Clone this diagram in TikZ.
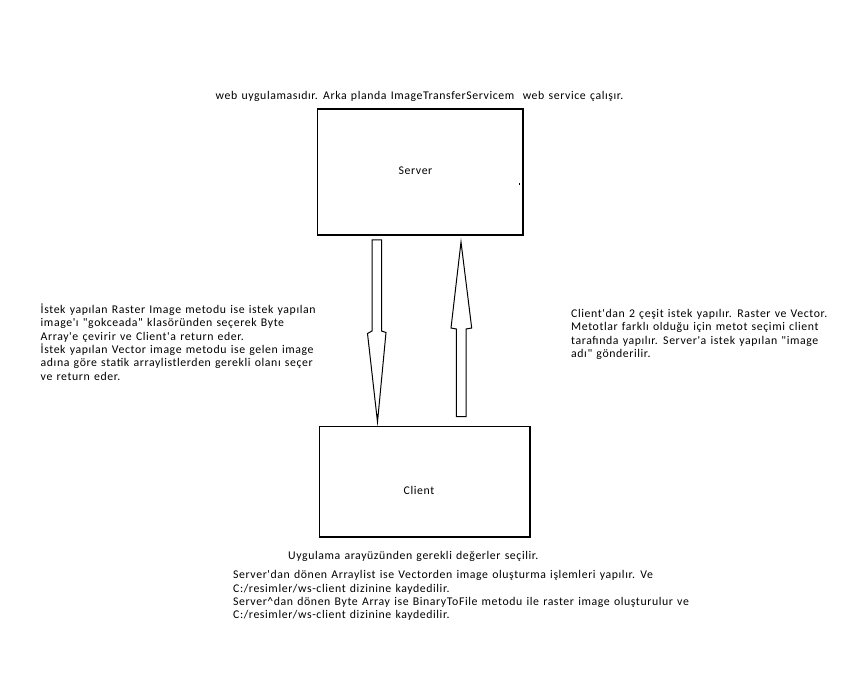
\documentclass[tikz,border=0pt]{standalone}
\usepackage{fontspec}
\setmainfont{Carlito}
\newfontfamily\paintfont[LetterSpace=5,WordSpace=1.3]{Carlito}
\begin{document}
\begin{tikzpicture}[x=1pt,y=-1pt,
  box/.style={draw=black,line width=1.6pt,fill=none},
  arrowshape/.style={draw=black,line width=1pt,line join=miter,fill=white},
  txt/.style={inner sep=0pt,align=left,font=\paintfont\fontsize{11.8}{13.35}\selectfont,text=black},
  lbl/.style={inner sep=0pt,font=\paintfont\fontsize{11.8}{13.35}\selectfont,text=black}]
\useasboundingbox (0,0) rectangle (848,676);
\fill[white] (0,0) rectangle (848,676);
% boxes
\node[box,minimum width=205.5pt,minimum height=125.5pt,anchor=north west] (server) at (316.5,108.5) {};
\node[box,minimum width=210.5pt,minimum height=110.5pt,anchor=north west] (client) at (318.5,425.5) {};
\node[lbl] (serverlbl) at (415.5,171) {Server};
\node[lbl] (clientlbl) at (419,490) {Client};
\fill (518.5,183.5) rectangle (519.7,184.7);
% down arrow (server -> client)
\draw[arrowshape] (372,240) -- (381.5,240) -- (381.5,331) -- (386,332.5) -- (377.5,422) -- (367.5,333.5) -- (372,331) -- cycle;
\fill (376.6,414) rectangle (378.3,423);
% up arrow (client -> server)
\draw[arrowshape] (461,242) -- (471.7,328) -- (466,329) -- (466,416.7) -- (456.3,416.7) -- (456.3,329) -- (451,328) -- cycle;
% texts
\node[txt,anchor=base west] (top) at (215.5,100) {web uygulamasıdır. Arka planda ImageTransferServicem\ \ web service çalışır.};
\node[txt,anchor=north west] (left) at (40.5,303.5) {İstek yapılan Raster Image metodu ise istek yapılan\\
image'ı "gokceada" klasöründen seçerek Byte\\
Array'e çevirir ve Client'a return eder.\\
İstek yapılan Vector image metodu ise gelen image\\
adına göre statik arraylistlerden gerekli olanı seçer\\
ve return eder.};
\node[txt,anchor=north west] (right) at (571,309) {Client'dan 2 çeşit istek yapılır. Raster ve Vector.\\
Metotlar farklı olduğu için metot seçimi client\\
tarafında yapılır. Server'a istek yapılan "image\\
adı" gönderilir.};
\node[txt,anchor=base west] (ui) at (288,559) {Uygulama arayüzünden gerekli değerler seçilir.};
\node[txt,anchor=north west] (bottom) at (233,570.5) {Server'dan dönen Arraylist ise Vectorden image oluşturma işlemleri yapılır. Ve\\
C:/resimler/ws-client dizinine kaydedilir.\\
Server\^{}dan dönen Byte Array ise BinaryToFile metodu ile raster image oluşturulur ve\\
C:/resimler/ws-client dizinine kaydedilir.};
\end{tikzpicture}
\end{document}
